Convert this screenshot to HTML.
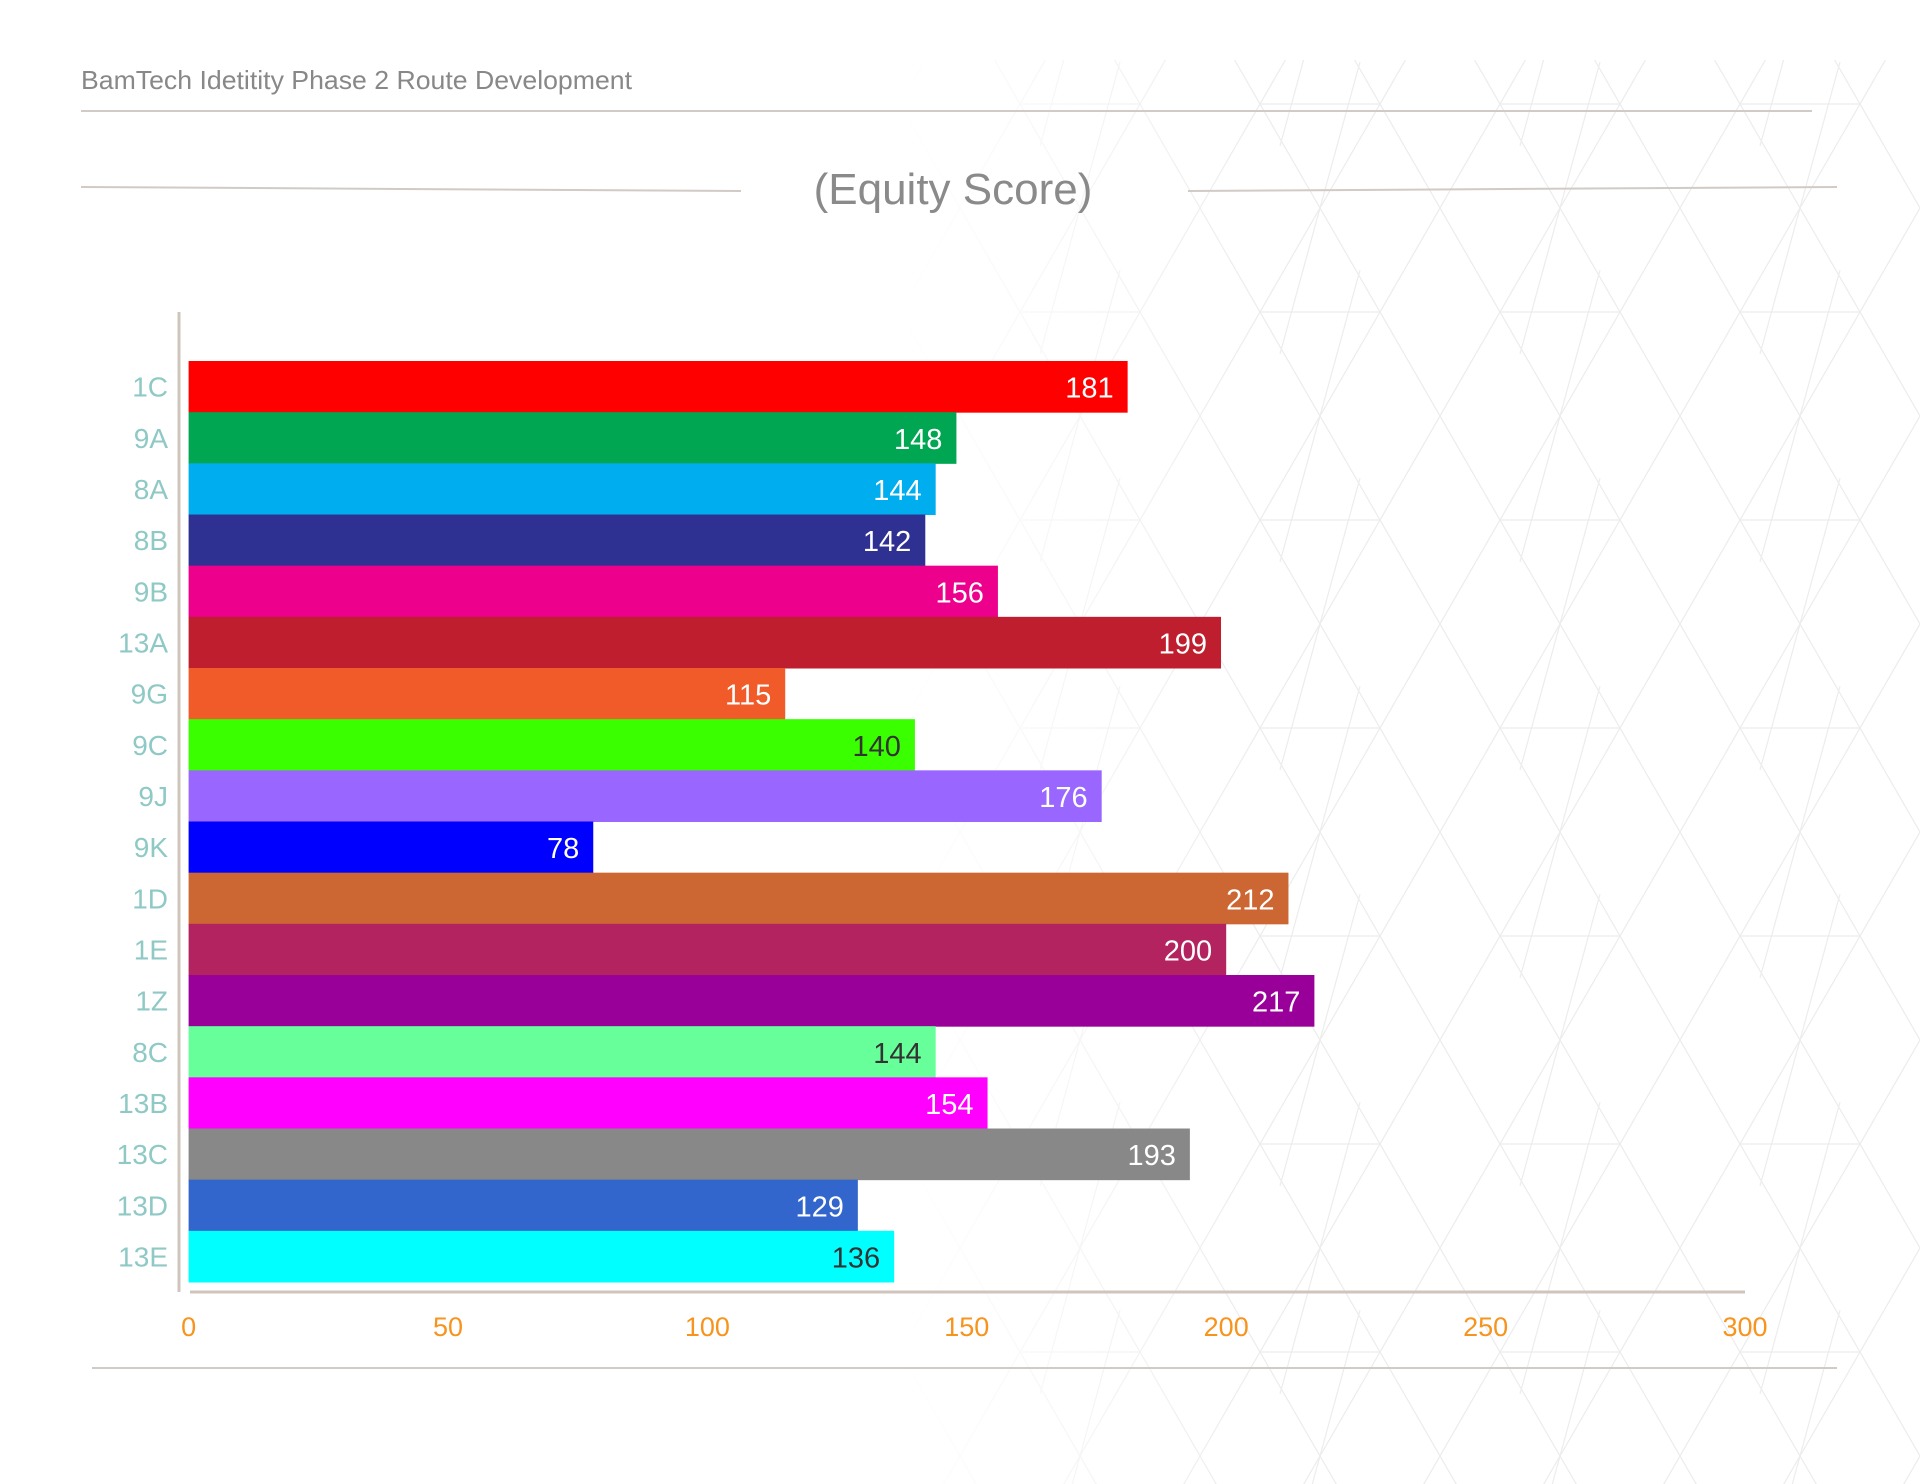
<!DOCTYPE html>
<html><head><meta charset="utf-8">
<style>
html,body{margin:0;padding:0;background:#fff;}
body{width:1920px;height:1484px;position:relative;overflow:hidden;font-family:"Liberation Sans",sans-serif;}
</style></head>
<body>
<svg id="chart" width="1920" height="1484" xmlns="http://www.w3.org/2000/svg" style="position:absolute;left:0;top:0">
  <defs>
    <pattern id="hex" width="240" height="208" patternUnits="userSpaceOnUse">
      <path d="M0 0 L120 208 L240 0 M60 104 L180 104 M0 208 L120 0 L240 208 M120 0 L80 146 M120 208 L160 62" fill="none" stroke="#ececec" stroke-width="1.2"/>
    </pattern>
    <linearGradient id="fade" x1="0" x2="1" y1="0" y2="0">
      <stop offset="0" stop-color="#fff" stop-opacity="0"/>
      <stop offset="0.35" stop-color="#fff" stop-opacity="1"/>
    </linearGradient>
    <mask id="m"><rect x="900" y="60" width="1020" height="1424" fill="url(#fade)"/></mask>
  </defs>
  <rect x="700" y="60" width="1220" height="1424" fill="url(#hex)" mask="url(#m)"/>
  <text x="81" y="89" font-size="26" fill="#888" textLength="551" lengthAdjust="spacingAndGlyphs">BamTech Idetitity Phase 2 Route Development</text>
  <line x1="81" y1="111" x2="1812" y2="111" stroke="#d2cac4" stroke-width="2"/>
  <text x="953" y="204" font-size="44" fill="#8a8a8a" text-anchor="middle">(Equity Score)</text>
  <line x1="81" y1="187" x2="741" y2="191" stroke="#d2cac4" stroke-width="2"/>
  <line x1="1188" y1="191" x2="1837" y2="187" stroke="#d2cac4" stroke-width="2"/>
  <line x1="179" y1="312" x2="179" y2="1292" stroke="#cfc5bd" stroke-width="3"/>
  <line x1="190" y1="1292" x2="1745" y2="1292" stroke="#cfc5bd" stroke-width="3"/>
  <line x1="92" y1="1368" x2="1837" y2="1368" stroke="#d2cac4" stroke-width="2"/>
  <g id="bars"></g>
</svg>
<script>
const categories=["1C","9A","8A","8B","9B","13A","9G","9C","9J","9K","1D","1E","1Z","8C","13B","13C","13D","13E"];
const values=[181,148,144,142,156,199,115,140,176,78,212,200,217,144,154,193,129,136];
const colors=["#ff0000","#00a651","#00aeef","#2e3192","#ec008c","#be1e2d","#f15a29","#39ff00","#9966ff","#0000ff","#cc6633","#b3235f","#990099","#66ff99","#ff00ff","#888888","#3366cc","#00ffff"];
const darkText=["9C","8C","13E"];
const ticks=[0,50,100,150,200,250,300];
const X0=188.6,XS=(1745-188.6)/300,Y0=361,BAND=(1282-361)/18;
const xs=v=>X0+v*XS, ys=i=>Y0+i*BAND;
const NS="http://www.w3.org/2000/svg";
const g=document.getElementById('bars');
function mk(t,a){const e=document.createElementNS(NS,t);for(const k in a)e.setAttribute(k,a[k]);return e;}
categories.forEach((c,i)=>{
  const r=mk('rect',{x:xs(0),y:ys(i),width:xs(values[i])-xs(0),height:BAND+0.5,fill:colors[i]});
  
  
  g.appendChild(r);
  const v=mk('text',{x:xs(values[i])-14,y:ys(i)+BAND/2+11,'font-size':29,'text-anchor':'end',fill:darkText.includes(c)?'#333':'#fff'});
  v.textContent=values[i];
  
  
  g.appendChild(v);
  const l=mk('text',{x:168,y:ys(i)+BAND/2+10,'font-size':28,'text-anchor':'end',fill:'#8fc9c5'});
  l.textContent=c;
  
  
  g.appendChild(l);
});
ticks.forEach(t=>{
  const e=mk('text',{x:xs(t),y:1336,'font-size':27,'text-anchor':'middle',fill:'#f7941d'});
  e.textContent=t;
  
  
  g.appendChild(e);
});
</script>
</body></html>
